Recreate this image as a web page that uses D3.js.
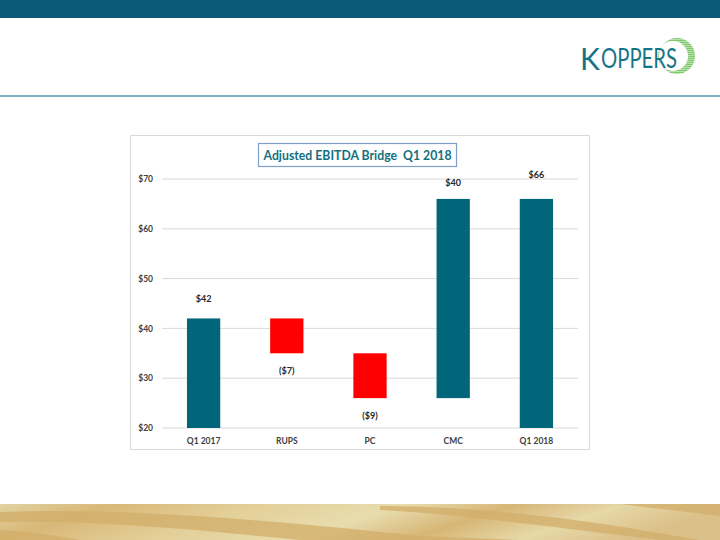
<!DOCTYPE html>
<html><head><meta charset="utf-8">
<script src="https://cdn.jsdelivr.net/npm/d3@7"></script>
<style>html,body{margin:0;padding:0;background:#fff;}svg{display:block;}</style>
</head><body>
<script>
const categories = ["Q1 2017", "RUPS", "PC", "CMC", "Q1 2018"];
const deltas = [42, -7, -9, 40, 66];
const isTotal = [true, false, false, false, true];
const valueLabels = ["$42", "($7)", "($9)", "$40", "$66"];
const yTicks = [20, 30, 40, 50, 60, 70];
const yTickLabels = ["$20", "$30", "$40", "$50", "$60", "$70"];
const title = "Adjusted EBITDA Bridge  Q1 2018";

const W = 720, H = 540;
const svg = d3.select("body").append("svg").attr("width", W).attr("height", H);
const defs = svg.append("defs");

// Top bar
svg.append("rect").attr("x", 0).attr("y", 0).attr("width", W).attr("height", 18).attr("fill", "#0b5a78");
// Divider line
svg.append("rect").attr("x", 0).attr("y", 95).attr("width", W).attr("height", 2).attr("fill", "#7fb0bf");

// Logo
const logo = svg.append("g");
const cx = 677, cy = 56, r = 18;
const clip = defs.append("clipPath").attr("id", "ring");
clip.append("path").attr("fill-rule", "evenodd").attr("clip-rule", "evenodd")
  .attr("d", `M${cx - r},${cy} a${r},${r} 0 1,0 ${2 * r},0 a${r},${r} 0 1,0 ${-2 * r},0 Z M${cx - 4 - 15},${cy} a15,15 0 1,1 30,0 a15,15 0 1,1 -30,0 Z`);
const gg = defs.append("linearGradient").attr("id", "ringg").attr("x1", 0).attr("y1", 0).attr("x2", 0).attr("y2", 1);
gg.append("stop").attr("offset", 0).attr("stop-color", "#9fd88a");
gg.append("stop").attr("offset", 1).attr("stop-color", "#4fae3c");
const stripeG = logo.append("g").attr("clip-path", "url(#ring)");
for (let yy = cy - r; yy < cy + r; yy += 2) {
  stripeG.append("rect").attr("x", cx - r - 2).attr("y", yy).attr("width", 2 * r + 4).attr("height", 1.4)
    .attr("fill", "url(#ringg)");
}
logo.append("text").attr("x", 580).attr("y", 70).attr("font-family", "Lato, 'Open Sans', sans-serif")
  .attr("font-size", 30).attr("fill", "#167487").text("K");
logo.append("text").attr("x", 601).attr("y", 68).attr("font-family", "Lato, 'Open Sans', sans-serif")
  .attr("font-size", 27).attr("fill", "#167487").attr("textLength", 76).attr("lengthAdjust", "spacingAndGlyphs").text("OPPERS");

// Wood band
const wood = defs.append("linearGradient").attr("id", "wood").attr("x1", "0").attr("y1", "0").attr("x2", "1").attr("y2", "0.15");
[[0, "#e2d3a0"], [0.15, "#d9b878"], [0.35, "#e3cf98"], [0.55, "#e8dcae"], [0.7, "#d7b676"], [0.85, "#e6d8a8"], [1, "#dcc089"]]
  .forEach(([o, c]) => wood.append("stop").attr("offset", o).attr("stop-color", c));
svg.append("rect").attr("x", 0).attr("y", 504).attr("width", W).attr("height", 36).attr("fill", "url(#wood)");
const streaks = [
  "M0,512 C120,508 250,518 420,536 L520,540 L300,540 C200,530 100,520 0,522 Z",
  "M380,506 C460,506 560,516 640,530 L700,540 L660,540 C560,528 470,515 380,510 Z",
  "M620,504 L720,504 L720,516 C690,512 650,508 620,504 Z",
  "M0,530 C30,532 60,536 80,540 L0,540 Z"
];
svg.append("g").selectAll("path").data(streaks).join("path").attr("d", d => d).attr("fill", "#d2ad6a").attr("opacity", 0.75);

// Chart frame
svg.append("rect").attr("x", 130.5).attr("y", 135.5).attr("width", 459).attr("height", 314)
  .attr("fill", "#fff").attr("stroke", "#d9d9d9").attr("stroke-width", 1);

// Title
const tg = svg.append("g");
tg.append("rect").attr("x", 258.5).attr("y", 143.5).attr("width", 198).attr("height", 23)
  .attr("fill", "#fff").attr("stroke", "#7f9fc6").attr("stroke-width", 1.2);
tg.append("text").attr("x", 357.5).attr("y", 160).attr("text-anchor", "middle")
  .attr("xml:space", "preserve").style("white-space", "pre")
  .attr("font-family", "Lato, 'Open Sans', sans-serif").attr("font-weight", "bold").attr("font-size", 13.5)
  .attr("fill", "#13707f").attr("textLength", 188).attr("lengthAdjust", "spacingAndGlyphs").text(title);

// Scales
const x = d3.scaleBand().domain(categories).range([162, 578]).paddingInner(0.6).paddingOuter(0.3);
const y = d3.scaleLinear().domain([20, 70]).range([428, 179]);

// Gridlines
svg.append("g").selectAll("line").data(yTicks).join("line")
  .attr("x1", 162).attr("x2", 578).attr("y1", d => y(d)).attr("y2", d => y(d))
  .attr("stroke", "#d9d9d9").attr("stroke-width", 1);

// Y axis
const yAxis = d3.axisLeft(y).tickValues(yTicks).tickFormat((d, i) => yTickLabels[i]).tickSize(0).tickPadding(9);
const ya = svg.append("g").attr("transform", "translate(162,0)").call(yAxis);
ya.select(".domain").remove();
ya.selectAll("text").attr("font-family", "Lato, 'Open Sans', sans-serif").attr("font-size", 8.5).attr("font-weight", "bold").attr("fill", "#404040");

// X axis
const xAxis = d3.axisBottom(x).tickSize(0).tickPadding(10);
const xa = svg.append("g").attr("transform", "translate(0,428)").call(xAxis);
xa.select(".domain").remove();
xa.selectAll("text").attr("font-family", "Lato, 'Open Sans', sans-serif").attr("font-size", 8.5).attr("font-weight", "bold").attr("fill", "#404040");

// Waterfall data
let cum = 0;
const bars = categories.map((c, i) => {
  let start, end;
  if (isTotal[i]) { start = 0; end = deltas[i]; cum = deltas[i]; }
  else { start = cum; end = cum + deltas[i]; cum = end; }
  return {c, start, end, total: isTotal[i], lo: Math.min(start, end), hi: Math.max(start, end), neg: !isTotal[i] && deltas[i] < 0, label: valueLabels[i]};
});

svg.append("g").selectAll("rect").data(bars).join("rect")
  .attr("x", d => x(d.c)).attr("width", x.bandwidth())
  .attr("y", d => y(d.hi)).attr("height", d => y(Math.max(20, d.lo)) - y(d.hi))
  .attr("fill", d => d.neg ? "#ff0000" : "#02667a");

svg.append("g").selectAll("text").data(bars).join("text")
  .attr("x", d => x(d.c) + x.bandwidth() / 2)
  .attr("y", d => d.neg ? y(d.lo) + 21 : y(d.hi) - (d.total ? (d.hi > 60 ? 21 : 16) : 13))
  .attr("text-anchor", "middle")
  .attr("font-family", "Lato, 'Open Sans', sans-serif").attr("font-size", 9).attr("font-weight", "bold").attr("fill", "#262626")
  .text(d => d.label);
</script>
</body></html>
